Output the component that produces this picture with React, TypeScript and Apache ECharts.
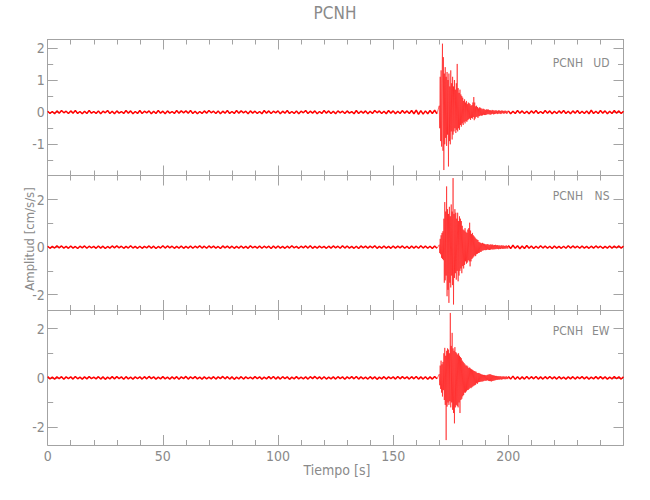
import React, { useEffect, useRef } from 'react';
import * as echarts from 'echarts';

// ---------- data ----------
const X_MIN = 0;
const X_MAX = 250;
const X_MAJOR = 50;
const X_MINOR = 10;
const X_LABELS = [0, 50, 100, 150, 200];

// sampling of the three stored pieces of each trace (seconds)
const PRE_START = 0;
const PRE_STEP = 1;
const EVT_START = 170;
const EVT_STEP = 0.2;
const POST_START = 200;
const POST_STEP = 1;

const UD_PRE = [
  .03,-.04,.02,-.05,.04,-.03,.05,-.02,.03,-.04,
  .04,-.03,.05,-.04,.02,-.05,.03,-.04,.05,-.03,
  .02,-.04,.04,-.05,.03,-.02,.05,-.04,.03,-.05,
  .04,-.03,.02,-.04,.05,-.03,.04,-.05,.02,-.04,
  .05,-.04,.03,-.02,.04,-.05,.03,-.04,.05,-.03,
  .03,-.05,.04,-.03,.02,-.04,.05,-.03,.04,-.02,
  .04,-.03,.05,-.04,.03,-.05,.02,-.04,.04,-.03,
  .05,-.02,.03,-.04,.04,-.05,.03,-.03,.05,-.04,
  .02,-.04,.05,-.03,.04,-.02,.03,-.05,.04,-.03,
  .03,-.04,.02,-.05,.05,-.03,.04,-.04,.03,-.02,
  .04,-.05,.03,-.03,.05,-.04,.02,-.04,.04,-.05,
  .03,-.02,.05,-.04,.03,-.03,.04,-.05,.02,-.04,
  .05,-.03,.04,-.04,.03,-.05,.04,-.02,.03,-.04,
  .04,-.03,.02,-.05,.05,-.04,.03,-.03,.04,-.05,
  .03,-.04,.05,-.02,.04,-.04,.03,-.05,.05,-.03,
  .04,-.05,.03,-.04,.05,-.03,.04,-.04,.05,-.05,
  .06,-.07,.05,-.06,.04,-.05,.05,-.04,.06,-.05,
];
const UD_EVT = [
  .2,-.5,1.1,-.9,1.3,-1.07,.9,2.13,-1.2,1.71,
  -1.8,1.2,-1.0,1.4,-.8,1.1,-1.05,1.25,-.7,1.0,
  -1.69,1.2,-.9,.8,-1.0,1.3,-.6,.9,-.85,1.1,
  -.7,.8,-.6,1.0,-.5,.7,-.65,.9,-.55,1.5,
  -.6,.75,-.5,.6,-.55,.7,-.4,.55,-.45,.5,
  -.35,.45,-.4,.35,-.3,.4,-.35,.3,-.28,.35,
  -.3,.25,-.25,.3,-.22,.28,-.2,.25,-.24,.2,
  -.18,.22,-.2,.3,-.15,.47,-.25,.3,-.2,.18,
  -.15,.2,-.14,.16,-.18,.12,-.13,.15,-.12,.14,
  -.1,.12,-.11,.09,-.1,.11,-.08,.1,-.09,.08,
  -.09,.07,-.08,.09,-.07,.08,-.06,.08,-.07,.06,
  -.07,.06,-.08,.05,-.06,.07,-.05,.06,-.07,.05,
  -.06,.05,-.05,.06,-.04,.05,-.06,.04,-.05,.06,
  -.04,.05,-.05,.04,-.06,.05,-.04,.05,-.03,.04,
  -.05,.04,-.04,.05,-.03,.04,-.05,.03,-.04,.05,
];
const UD_POST = [
  .04,-.05,.03,-.04,.05,-.03,.04,-.04,.03,-.05,
  .04,-.03,.05,-.04,.02,-.04,.05,-.03,.04,-.05,
  .03,-.04,.04,-.03,.05,-.04,.03,-.05,.04,-.03,
  .05,-.04,.03,-.04,.04,-.05,.06,-.04,.03,-.04,
  .05,-.03,.04,-.05,.03,-.04,.05,-.03,.04,-.04,
  .03,
];

const NS_PRE = [
  .04,-.05,.03,-.04,.06,-.03,.05,-.04,.03,-.05,
  .05,-.04,.03,-.06,.04,-.03,.05,-.05,.04,-.03,
  .03,-.05,.05,-.04,.04,-.06,.03,-.04,.05,-.03,
  .05,-.03,.04,-.05,.03,-.04,.06,-.04,.03,-.05,
  .04,-.05,.03,-.03,.05,-.04,.04,-.06,.03,-.04,
  .06,-.04,.05,-.03,.04,-.05,.03,-.04,.05,-.05,
  .03,-.04,.05,-.05,.04,-.03,.06,-.04,.04,-.05,
  .05,-.03,.04,-.04,.03,-.06,.05,-.03,.04,-.04,
  .04,-.05,.03,-.04,.05,-.04,.03,-.05,.06,-.03,
  .03,-.04,.05,-.05,.04,-.03,.04,-.06,.05,-.04,
  .05,-.04,.03,-.05,.04,-.04,.06,-.03,.03,-.05,
  .04,-.03,.05,-.04,.06,-.05,.03,-.04,.04,-.03,
  .03,-.05,.04,-.04,.05,-.03,.04,-.05,.06,-.04,
  .05,-.04,.03,-.05,.04,-.06,.05,-.03,.04,-.04,
  .04,-.03,.06,-.05,.03,-.04,.05,-.04,.03,-.05,
  .05,-.04,.04,-.03,.05,-.05,.04,-.06,.05,-.04,
  .04,-.05,.06,-.04,.05,-.05,.04,-.06,.05,-.05,
];
const NS_EVT = [
  .1,-.25,.35,-.3,.5,-.45,.6,-.5,.67,-.55,
  1.2,-1.5,1.9,-1.4,1.5,-1.2,2.56,-2.07,1.6,-1.8,
  1.4,-2.35,1.7,-1.5,1.3,-1.7,1.8,-1.2,1.5,-1.6,
  2.91,-2.42,1.4,-1.3,1.6,-1.1,1.45,-1.37,1.2,-1.0,
  1.45,-1.44,1.1,-1.2,1.3,-1.0,1.2,-.9,1.1,-1.1,
  .9,-.8,.74,-.9,.7,-.75,.8,-.6,.65,-.7,
  .6,-.65,.74,-.55,.8,-.6,1.03,-.81,.7,-.6,
  .55,-.5,.6,-.45,.5,-.4,.45,-.35,.4,-.38,
  .35,-.3,.32,-.28,.3,-.25,.22,-.24,.2,-.2,
  .18,-.2,.16,-.15,.18,-.14,.15,-.13,.14,-.12,
  .12,-.13,.11,-.12,.13,-.1,.12,-.11,.1,-.12,
  .1,-.11,.12,-.09,.1,-.1,.11,-.09,.08,-.1,
  .09,-.08,.1,-.09,.08,-.07,.09,-.08,.07,-.09,
  .08,-.07,.06,-.08,.07,-.06,.08,-.07,.06,-.07,
  .07,-.06,.05,-.07,.06,-.05,.07,-.06,.05,-.06,
];
const NS_POST = [
  .07,-.06,.08,-.05,.06,-.07,.05,-.06,.07,-.05,
  .05,-.06,.04,-.05,.06,-.04,.05,-.05,.04,-.06,
  .05,-.04,.03,-.05,.04,-.05,.06,-.04,.05,-.03,
  .04,-.05,.05,-.04,.03,-.05,.04,-.04,.05,-.03,
  .04,-.05,.03,-.04,.05,-.04,.04,-.03,.05,-.04,
  .04,
];

const EW_PRE = [
  .05,-.04,.03,-.05,.04,-.03,.05,-.06,.04,-.03,
  .04,-.05,.06,-.04,.03,-.05,.04,-.04,.05,-.03,
  .03,-.04,.05,-.05,.04,-.06,.03,-.04,.05,-.04,
  .05,-.03,.04,-.06,.05,-.04,.03,-.05,.04,-.03,
  .04,-.05,.05,-.04,.06,-.03,.04,-.05,.03,-.04,
  .05,-.04,.03,-.05,.04,-.04,.05,-.06,.04,-.03,
  .06,-.05,.04,-.03,.05,-.04,.03,-.05,.04,-.04,
  .03,-.04,.05,-.05,.04,-.03,.06,-.04,.05,-.05,
  .04,-.06,.03,-.04,.05,-.05,.04,-.03,.03,-.04,
  .05,-.03,.04,-.05,.03,-.04,.05,-.04,.06,-.05,
  .04,-.05,.05,-.03,.04,-.06,.03,-.04,.05,-.04,
  .03,-.04,.04,-.05,.05,-.03,.06,-.04,.04,-.05,
  .05,-.05,.03,-.04,.04,-.05,.05,-.03,.04,-.06,
  .04,-.03,.05,-.04,.06,-.05,.04,-.04,.03,-.05,
  .05,-.04,.04,-.06,.03,-.04,.05,-.05,.04,-.03,
  .04,-.05,.06,-.04,.05,-.03,.04,-.05,.05,-.04,
  .06,-.05,.04,-.05,.05,-.06,.04,-.05,.06,-.04,
];
const EW_EVT = [
  .15,-.3,.5,-.45,.7,-.6,.55,-.76,.65,-.5,
  1.0,-.9,1.22,-1.1,.9,-2.53,1.1,-1.17,1.2,-1.0,
  1.15,-1.1,1.0,-.95,2.64,-1.2,1.3,-1.0,1.83,-1.3,
  1.2,-1.43,1.1,-1.85,1.25,-1.2,1.05,-1.1,1.0,-1.15,
  .95,-1.2,1.0,-1.0,.9,-1.43,.85,-.9,.8,-.85,
  .7,-.75,.65,-.7,.6,-.6,.55,-.6,.5,-.55,
  .5,-.5,.46,-.49,.4,-.45,.42,-.4,.38,-.42,
  .35,-.38,.33,-.35,.3,-.32,.28,-.3,.26,-.28,
  .25,-.22,.2,-.24,.2,-.18,.2,-.17,.18,-.16,
  .16,-.15,.14,-.15,.13,-.14,.12,-.13,.12,-.11,
  .11,-.12,.1,-.11,.12,-.1,.13,-.12,.14,-.13,
  .15,-.13,.14,-.15,.12,-.13,.11,-.12,.1,-.11,
  .09,-.1,.08,-.09,.08,-.08,.07,-.08,.07,-.07,
  .06,-.07,.07,-.06,.06,-.07,.05,-.06,.06,-.05,
  .06,-.05,.05,-.06,.05,-.05,.06,-.05,.04,-.05,
];
const EW_POST = [
  .06,-.05,.07,-.06,.05,-.06,.04,-.05,.06,-.05,
  .05,-.04,.06,-.05,.04,-.05,.05,-.04,.06,-.04,
  .04,-.05,.05,-.04,.03,-.05,.04,-.04,.05,-.05,
  .04,-.03,.05,-.04,.04,-.05,.03,-.04,.05,-.04,
  .05,-.04,.04,-.05,.03,-.04,.05,-.03,.04,-.05,
  .05,
];

const STATION = 'PCNH';
const COMPONENTS = ['UD', 'NS', 'EW'];
const Y_MIN = [-1.97, -2.65, -2.73];
const Y_MAX = [2.26, 3.02, 2.76];
const Y_MAJOR = [[-1, 0, 1, 2], [-2, 0, 2], [-2, 0, 2]];
const Y_MINOR = [[-1.5, -0.5, 0.5, 1.5], [-1, 1], [-1, 1]];
const TRACES = [
  [UD_PRE, UD_EVT, UD_POST],
  [NS_PRE, NS_EVT, NS_POST],
  [EW_PRE, EW_EVT, EW_POST],
];
const X_NAME = 'Tiempo [s]';
const Y_NAME = 'Amplitud [cm/s/s]';

// ---------- layout ----------
const GRID_LEFT = 47.7;
const GRID_WIDTH = 575.8;
const GRID_TOPS = [39.5, 175.5, 310];
const GRID_HEIGHTS = [136, 134.5, 135];
const LABEL_Y = [63, 196, 331];

const AXIS_COLOR = '#a3a3a3';
const TEXT_COLOR = '#8a8a8a';
const FONT = "'Liberation Sans Narrow', 'DejaVu Sans Condensed', 'Liberation Sans', sans-serif";
const RED = '#ff0000';

type Pt = [number, number | string];

function noisePoints(pieces: number[][]): Pt[] {
  const [pre, , post] = pieces;
  const out: Pt[] = [];
  pre.forEach((v, i) => out.push([PRE_START + i * PRE_STEP, v]));
  out.push([EVT_START + 10, '-']); // break: the event is drawn by its own series
  post.forEach((v, i) => out.push([POST_START + i * POST_STEP, v]));
  return out;
}

function eventPoints(pieces: number[][]): Pt[] {
  const [pre, evt, post] = pieces;
  const out: Pt[] = [];
  out.push([PRE_START + (pre.length - 1) * PRE_STEP, pre[pre.length - 1]]);
  evt.forEach((v, i) => out.push([+(EVT_START + i * EVT_STEP).toFixed(2), v]));
  out.push([POST_START, post[0]]);
  return out;
}

function buildOption() {
  const grid: any[] = [];
  const xAxis: any[] = [];
  const yAxis: any[] = [];
  const series: any[] = [];
  const labelStyle = { color: TEXT_COLOR, fontFamily: FONT, fontSize: 14 };

  COMPONENTS.forEach((comp, i) => {
    grid.push({ left: GRID_LEFT, top: GRID_TOPS[i], width: GRID_WIDTH, height: GRID_HEIGHTS[i], containLabel: false });
    const isLast = i === COMPONENTS.length - 1;
    const xBase = { gridIndex: i, type: 'value', min: X_MIN, max: X_MAX, splitLine: { show: false } };
    xAxis.push({
      ...xBase, position: 'bottom', interval: X_MAJOR,
      axisLine: { show: true, onZero: false, lineStyle: { color: AXIS_COLOR, width: 1 } },
      axisTick: { show: true, inside: true, length: 10, lineStyle: { color: AXIS_COLOR } },
      axisLabel: isLast
        ? { show: true, customValues: X_LABELS, margin: 4, ...labelStyle }
        : { show: false },
    });
    xAxis.push({
      ...xBase, position: 'bottom', interval: X_MINOR,
      axisLine: { show: false, onZero: false },
      axisTick: { show: true, inside: true, length: 5, lineStyle: { color: AXIS_COLOR } },
      axisLabel: { show: false },
    });
    xAxis.push({
      ...xBase, position: 'top', interval: X_MAJOR,
      axisLine: { show: true, onZero: false, lineStyle: { color: AXIS_COLOR, width: 1 } },
      axisTick: { show: true, inside: true, length: 10, lineStyle: { color: AXIS_COLOR } },
      axisLabel: { show: false },
    });
    xAxis.push({
      ...xBase, position: 'top', interval: X_MINOR,
      axisLine: { show: false, onZero: false },
      axisTick: { show: true, inside: true, length: 5, lineStyle: { color: AXIS_COLOR } },
      axisLabel: { show: false },
    });

    const yBase = { gridIndex: i, type: 'value', min: Y_MIN[i], max: Y_MAX[i], splitLine: { show: false } };
    yAxis.push({
      ...yBase, position: 'left',
      axisLine: { show: true, onZero: false, lineStyle: { color: AXIS_COLOR, width: 1 } },
      axisTick: { show: true, inside: true, length: 10, customValues: Y_MAJOR[i], lineStyle: { color: AXIS_COLOR } },
      axisLabel: { show: true, customValues: Y_MAJOR[i], margin: 3, ...labelStyle },
    });
    yAxis.push({
      ...yBase, position: 'left',
      axisLine: { show: false, onZero: false },
      axisTick: { show: true, inside: true, length: 5.5, customValues: Y_MINOR[i], lineStyle: { color: AXIS_COLOR } },
      axisLabel: { show: false },
    });
    yAxis.push({
      ...yBase, position: 'right',
      axisLine: { show: true, onZero: false, lineStyle: { color: AXIS_COLOR, width: 1 } },
      axisTick: { show: true, inside: true, length: 10, customValues: Y_MAJOR[i], lineStyle: { color: AXIS_COLOR } },
      axisLabel: { show: false },
    });
    yAxis.push({
      ...yBase, position: 'right',
      axisLine: { show: false, onZero: false },
      axisTick: { show: true, inside: true, length: 5.5, customValues: Y_MINOR[i], lineStyle: { color: AXIS_COLOR } },
      axisLabel: { show: false },
    });

    series.push({
      name: `${STATION} ${comp} noise`,
      type: 'line',
      xAxisIndex: i * 4,
      yAxisIndex: i * 4,
      data: noisePoints(TRACES[i]),
      showSymbol: false,
      symbol: 'none',
      silent: true,
      clip: true,
      connectNulls: false,
      lineStyle: { color: RED, width: 1.5 },
      z: 1,
    });
    series.push({
      name: `${STATION} ${comp}`,
      type: 'line',
      xAxisIndex: i * 4,
      yAxisIndex: i * 4,
      data: eventPoints(TRACES[i]),
      showSymbol: false,
      symbol: 'none',
      silent: true,
      clip: true,
      lineStyle: { color: RED, width: 0.55 },
      z: 2,
    });
  });

  const graphic: any[] = [
    {
      type: 'text', x: 335, y: 13,
      style: { text: STATION, fill: TEXT_COLOR, fontFamily: FONT, fontSize: 17, align: 'center', verticalAlign: 'middle' },
    },
    {
      type: 'text', x: 337, y: 470,
      style: { text: X_NAME, fill: TEXT_COLOR, fontFamily: FONT, fontSize: 14, align: 'center', verticalAlign: 'middle' },
    },
    {
      type: 'text', x: 29, y: 239, rotation: Math.PI / 2,
      style: { text: Y_NAME, fill: TEXT_COLOR, fontFamily: FONT, fontSize: 13, align: 'center', verticalAlign: 'middle' },
    },
  ];
  COMPONENTS.forEach((comp, i) => {
    graphic.push({
      type: 'text', x: 583, y: LABEL_Y[i],
      style: { text: STATION, fill: TEXT_COLOR, fontFamily: FONT, fontSize: 12, align: 'right', verticalAlign: 'middle' },
    });
    graphic.push({
      type: 'text', x: 609.5, y: LABEL_Y[i],
      style: { text: comp, fill: TEXT_COLOR, fontFamily: FONT, fontSize: 12, align: 'right', verticalAlign: 'middle' },
    });
  });

  return {
    animation: false,
    backgroundColor: '#ffffff',
    grid,
    xAxis,
    yAxis,
    series,
    graphic,
  };
}

export default function App() {
  const ref = useRef<HTMLDivElement>(null);
  useEffect(() => {
    if (!ref.current) return;
    const chart = echarts.init(ref.current, undefined, { renderer: 'svg' });
    chart.setOption(buildOption() as any);
    return () => chart.dispose();
  }, []);
  return (
    <div
      ref={ref}
      style={{ position: 'absolute', left: 0, top: 0, width: 650, height: 500 }}
    />
  );
}
